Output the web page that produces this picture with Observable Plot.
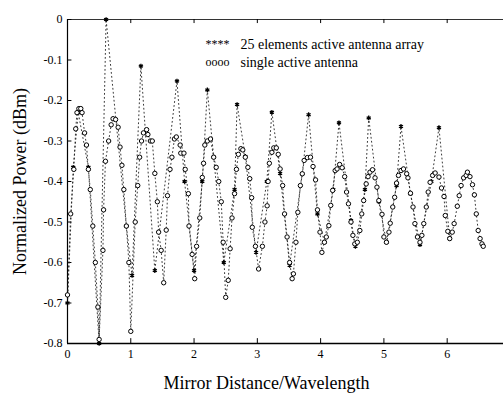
<!DOCTYPE html>
<html>
<head>
<meta charset="utf-8">
<script src="https://cdn.jsdelivr.net/npm/d3@7"></script>
<script src="https://cdn.jsdelivr.net/npm/@observablehq/plot@0.6"></script>
<style>
  html, body { margin: 0; padding: 0; background: #fff; }
  #chart svg, #chart svg text { font-family: "Liberation Serif", "DejaVu Serif", serif !important; }
</style>
</head>
<body>
<div id="chart"></div>
<script>
// single active antenna (circles)
const singleX = [
  0.00,0.05,0.10,0.13,0.15,0.18,0.21,0.23,0.27,0.30,0.33,0.36,0.40,0.44,0.48,0.50,
  0.56,0.57,0.60,0.65,0.69,0.72,0.76,0.80,0.83,0.86,0.89,0.93,0.97,1.00,
  1.07,1.11,1.14,1.17,1.20,1.25,1.27,1.31,1.34,1.38,1.42,1.44,1.48,1.52,
  1.56,1.58,1.62,1.65,1.69,1.72,1.78,1.79,1.84,1.86,1.91,1.92,1.97,2.01,
  2.04,2.09,2.13,2.15,2.17,2.21,2.26,2.31,2.35,2.39,2.43,2.46,2.50,
  2.54,2.57,2.60,2.64,2.67,2.70,2.74,2.77,2.81,2.85,2.88,2.91,2.92,2.97,3.02,
  3.08,3.12,3.155,3.17,3.19,3.23,3.26,3.30,3.33,3.36,3.40,3.43,3.47,3.51,3.55,
  3.57,3.61,3.64,3.68,3.71,3.74,3.79,3.84,3.88,3.92,3.95,3.99,4.02,
  4.06,4.09,4.13,4.16,4.19,4.23,4.26,4.30,4.34,4.38,4.41,4.44,4.48,4.51,4.54,
  4.58,4.62,4.65,4.68,4.72,4.75,4.78,4.82,4.86,4.89,4.92,4.97,5.00,
  5.04,5.08,5.10,5.14,5.17,5.20,5.23,5.27,5.31,5.36,5.38,5.42,5.46,5.49,5.53,5.57,
  5.60,5.63,5.67,5.70,5.73,5.77,5.81,5.87,5.91,5.95,5.97,6.01,6.04,
  6.08,6.11,6.16,6.19,6.22,6.26,6.30,6.32,6.36,6.40,6.43,6.46,6.49,6.52,6.55,6.57
];
const singleY = [
  -0.68,-0.48,-0.37,-0.27,-0.23,-0.22,-0.22,-0.23,-0.28,-0.31,-0.37,-0.42,-0.51,-0.60,-0.71,-0.79,
  -0.57,-0.47,-0.35,-0.30,-0.26,-0.245,-0.247,-0.266,-0.315,-0.36,-0.42,-0.51,-0.60,-0.77,
  -0.50,-0.41,-0.34,-0.30,-0.28,-0.272,-0.284,-0.30,-0.30,-0.38,-0.45,-0.525,-0.57,-0.65,
  -0.52,-0.435,-0.37,-0.34,-0.295,-0.29,-0.31,-0.33,-0.33,-0.37,-0.43,-0.51,-0.58,-0.64,
  -0.56,-0.49,-0.39,-0.355,-0.31,-0.30,-0.295,-0.34,-0.365,-0.40,-0.45,-0.55,-0.686,
  -0.644,-0.566,-0.49,-0.43,-0.37,-0.333,-0.319,-0.322,-0.34,-0.365,-0.393,-0.44,-0.513,-0.56,-0.616,
  -0.56,-0.50,-0.46,-0.40,-0.355,-0.328,-0.317,-0.317,-0.333,-0.369,-0.41,-0.48,-0.537,-0.60,-0.64,
  -0.628,-0.55,-0.476,-0.41,-0.381,-0.348,-0.341,-0.34,-0.363,-0.396,-0.47,-0.525,-0.575,
  -0.55,-0.537,-0.509,-0.459,-0.422,-0.373,-0.369,-0.358,-0.366,-0.388,-0.426,-0.455,-0.50,-0.533,-0.554,
  -0.55,-0.521,-0.48,-0.447,-0.406,-0.388,-0.377,-0.371,-0.391,-0.414,-0.447,-0.481,-0.537,
  -0.55,-0.525,-0.503,-0.463,-0.439,-0.404,-0.385,-0.373,-0.369,-0.381,-0.391,-0.429,-0.463,-0.504,-0.537,-0.55,
  -0.533,-0.504,-0.463,-0.426,-0.402,-0.385,-0.379,-0.389,-0.416,-0.437,-0.484,-0.523,-0.541,
  -0.525,-0.504,-0.461,-0.435,-0.41,-0.391,-0.385,-0.377,-0.388,-0.408,-0.433,-0.48,-0.521,-0.541,-0.554,-0.56
];
// 25 elements active antenna array (stars)
const arrayX = [
  0.00,0.09,0.17,0.33,0.50,0.61,0.93,1.02,1.16,1.38,1.73,1.85,2.00,2.13,2.21,2.31,2.47,
  2.64,2.68,2.81,2.98,3.15,3.23,3.36,3.51,3.71,3.81,3.95,4.06,4.20,4.29,4.48,4.55,
  4.70,4.76,4.92,5.04,5.20,5.27,5.42,5.57,5.75,5.87,6.04
];
const arrayY = [
  -0.70,-0.365,-0.23,-0.365,-0.80,0.00,-0.51,-0.632,-0.115,-0.62,-0.152,-0.40,-0.62,-0.40,-0.174,-0.34,-0.60,
  -0.42,-0.21,-0.338,-0.575,-0.40,-0.229,-0.38,-0.607,-0.381,-0.235,-0.48,-0.55,-0.42,-0.255,-0.496,-0.56,
  -0.42,-0.243,-0.45,-0.55,-0.41,-0.264,-0.43,-0.556,-0.40,-0.267,-0.54
];
const xTicks = [0, 1, 2, 3, 4, 5, 6];
const xTickLabels = ["0", "1", "2", "3", "4", "5", "6"];
const yTicks = [0, -0.1, -0.2, -0.3, -0.4, -0.5, -0.6, -0.7, -0.8];
const yTickLabels = ["0", "-0.1", "-0.2", "-0.3", "-0.4", "-0.5", "-0.6", "-0.7", "-0.8"];
const legendSymbols = ["****", "oooo"];
const legendLabels = ["25 elements active antenna array", "single active antenna"];
const xLabel = "Mirror Distance/Wavelength";
const yLabel = "Normalized Power (dBm)";

const single = singleX.map((x, i) => ({x, y: singleY[i]}));
const arr = arrayX.map((x, i) => ({x, y: arrayY[i]}));

const serif = "Liberation Serif, DejaVu Serif, serif";
const dotted = {stroke: "#222", strokeWidth: 0.9, strokeDasharray: "1,3"};

const legendMarks = legendLabels.flatMap((t, i) => [
  Plot.text([legendSymbols[i]], {frameAnchor: "top-left", dx: 138, dy: 25 + i * 18,
    textAnchor: "start", lineAnchor: "middle", fontSize: 12, fill: "black", fontFamily: serif}),
  Plot.text([t], {frameAnchor: "top-left", dx: 173, dy: 25 + i * 18,
    textAnchor: "start", lineAnchor: "middle", fontSize: 14, fill: "black", fontFamily: serif})
]);

const chart = Plot.plot({
  width: 503,
  height: 394,
  marginLeft: 67,
  marginRight: 0,
  marginTop: 19,
  marginBottom: 51,
  style: {fontFamily: serif, fontSize: "12px", background: "white", color: "black"},
  x: {domain: [0, 6.89], axis: null},
  y: {domain: [-0.8, 0], axis: null},
  marks: [
    Plot.axisY(yTicks, {tickSize: 0, tickPadding: 5, label: null,
      tickFormat: d => yTickLabels[yTicks.indexOf(d)], fontSize: 12, fontFamily: serif}),
    Plot.axisX(xTicks, {tickSize: 0, tickPadding: 6, label: null,
      tickFormat: d => xTickLabels[xTicks.indexOf(d)], fontSize: 12, fontFamily: serif}),
    Plot.ruleX([0], {stroke: "black", strokeWidth: 1.2}),
    Plot.ruleY([-0.8], {stroke: "black", strokeWidth: 1.3}),
    Plot.ruleY([0], {stroke: "#333", strokeWidth: 1}),
    Plot.ruleY(yTicks, {x1: 0, x2: 0.07, stroke: "black"}),
    Plot.ruleX(xTicks, {y1: -0.8, y2: -0.788, stroke: "black"}),
    Plot.ruleX(xTicks, {y1: 0, y2: -0.01, stroke: "black"}),
    Plot.line(arr, {x: "x", y: "y", ...dotted}),
    Plot.line(single, {x: "x", y: "y", ...dotted}),
    Plot.dot(arr, {x: "x", y: "y", symbol: "asterisk", r: 2.2, stroke: "black", strokeWidth: 1.3}),
    Plot.dot(single, {x: "x", y: "y", r: 2.2, stroke: "black", fill: "white", strokeWidth: 1}),
    ...legendMarks,
    Plot.text([xLabel], {frameAnchor: "bottom", dx: -19, dy: 40, textAnchor: "middle", lineAnchor: "middle",
      fontSize: 18, fill: "black", fontFamily: serif}),
    Plot.text([yLabel], {frameAnchor: "left", dx: -47, rotate: -90, textAnchor: "middle", lineAnchor: "middle",
      fontSize: 18, fill: "black", fontFamily: serif})
  ]
});
document.getElementById("chart").appendChild(chart);
</script>
</body>
</html>
